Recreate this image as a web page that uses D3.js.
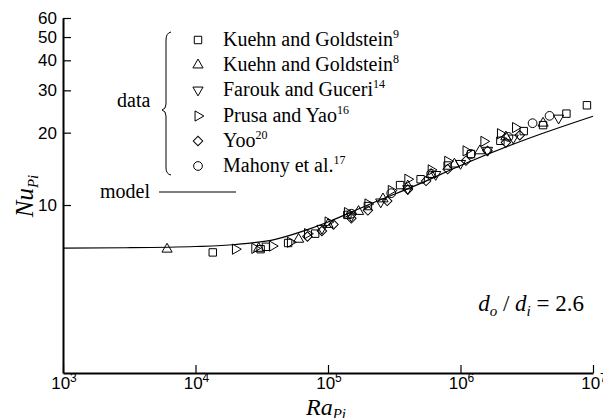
<!DOCTYPE html>
<html>
<head>
<meta charset="utf-8">
<script src="https://cdn.jsdelivr.net/npm/d3@7"></script>
<style>
body { margin: 0; background: #fff; }
</style>
</head>
<body>
<div id="chart"></div>
<script>
// data: [Ra, Nu]
const kuehn9 = [[1.35e4,6.35],[3.1e4,6.55],[3.4e4,6.7],[5e4,6.95],[8e4,7.6],[1.4e5,9.1],[2e5,9.9],[3.5e5,12.1],[5e5,12.8],[8e5,14.6],[1.2e6,16.3],[2e6,18.5],[3e6,20.3],[4.2e6,21.5],[6.3e6,24.0],[9e6,26.0]];
const kuehn8 = [[6.1e3,6.55],[3e4,6.6],[6e4,7.2],[1e5,8.3],[1.7e5,9.4],[2.6e5,10.6],[4e5,12.0],[6e5,13.4],[9e5,14.8],[1.4e6,16.8],[2.2e6,19.2],[4.2e6,21.9]];
const farouk = [[9e4,8.0],[1.5e5,9.0],[2.5e5,10.3],[4e5,11.7],[6.5e5,13.4],[1e6,14.9],[1.6e6,16.9],[2.5e6,19.0],[5.5e6,23.0]];
const prusa = [[2e4,6.55],[2.8e4,6.6],[3.8e4,6.75],[5.2e4,7.0],[7e4,7.6],[1e5,8.5],[1.4e5,9.3],[2e5,10.1],[3e5,11.5],[4e5,12.8],[6e5,14.0],[8e5,15.2],[1.1e6,16.8],[1.5e6,18.4],[2e6,19.8],[2.6e6,21.0]];
const yoo = [[7e4,7.4],[9e4,7.8],[1.1e5,8.3],[1.5e5,8.8],[2e5,9.5],[2.8e5,10.4],[4e5,11.6],[5.5e5,12.6],[8e5,14.1],[1.1e6,15.3],[1.6e6,16.8],[2.2e6,18.2],[2.8e6,19.5]];
const mahony = [[1.5e5,9.2],[3e5,11.2],[6e5,13.5],[1.2e6,16.3],[2.3e6,19.2],[3.5e6,21.9],[4.7e6,23.5]];

// model curve, read at a few points
const modelRa = [1e3, 3e3, 1e4, 2e4, 4e4, 7e4, 1e5, 2e5, 5e5, 1e6, 3e6, 1e7];
const modelNu = [6.62, 6.64, 6.72, 6.85, 7.2, 7.9, 8.5, 10.0, 12.3, 14.6, 18.6, 23.4];

// legend entries
const legendNames = ['Kuehn and Goldstein', 'Kuehn and Goldstein', 'Farouk and Guceri', 'Prusa and Yao', 'Yoo', 'Mahony et al.'];
const legendRefs = ['9', '8', '14', '16', '20', '17'];

const xMajor = [1e3, 1e4, 1e5, 1e6, 1e7];
const xExp = ['3', '4', '5', '6', '7'];
const yMajor = [10, 20, 30, 40, 50, 60];

const w = 603, h = 418;
const svg = d3.select('#chart').append('svg')
	.attr('width', w)
	.attr('height', h)
	.style('font-family', 'Liberation Serif, Times New Roman, serif');

const x = d3.scaleLog().domain([1e3, 1e7]).range([63, 593]);
const y = d3.scaleLog().domain([2, 60]).range([373, 18]);

//minor ticks
const xMinor = [];
[1e3, 1e4, 1e5, 1e6].forEach(d => { for (let k = 2; k <= 9; k++) xMinor.push(d * k); });
const yMinor = d3.range(4, 60, 2).filter(v => v % 10 !== 0);

const gx = svg.append('g').attr('transform', `translate(0,${y(2)})`);
gx.call(d3.axisBottom(x).tickValues(xMinor).tickSize(-4).tickSizeOuter(0).tickFormat(''));
gx.call(d3.axisBottom(x).tickValues(xMajor).tickSize(-8).tickSizeOuter(0).tickFormat(''));
gx.select('.domain').attr('stroke-width', 2);

const gy = svg.append('g').attr('transform', `translate(${x(1e3)},0)`);
gy.call(d3.axisLeft(y).tickValues(yMinor).tickSize(-4).tickSizeOuter(0).tickFormat(''));
gy.call(d3.axisLeft(y).tickValues(yMajor).tickSize(-8).tickSizeOuter(0).tickFormat(''));
gy.select('.domain').attr('stroke-width', 2);
svg.selectAll('.tick line').attr('stroke-width', 1.2);

// tick labels
const sans = 'Liberation Sans, Arial, Helvetica, sans-serif';
const xl = svg.append('g').style('font-family', sans);
xMajor.forEach((v, i) => {
	const t = xl.append('text').attr('x', x(v) + 1).attr('y', 389)
		.attr('text-anchor', 'middle').style('font-size', '17px');
	t.append('tspan').text('10');
	t.append('tspan').attr('dy', -7).style('font-size', '12px').text(xExp[i]);
});
svg.append('g').selectAll('text').data(yMajor).join('text')
	.attr('x', 57).attr('y', d => y(d) + 6)
	.attr('text-anchor', 'end')
	.style('font-family', sans).style('font-size', '17px')
	.text(d => d);

// axis titles
const xt = svg.append('text').attr('x', 326).attr('y', 415)
	.attr('text-anchor', 'middle').style('font-size', '24px').style('font-style', 'italic');
xt.append('tspan').text('Ra');
xt.append('tspan').attr('dy', 4).style('font-size', '15px').text('Pi');

const yt = svg.append('text').attr('transform', 'translate(33,196) rotate(-90)')
	.attr('text-anchor', 'middle').style('font-size', '25px').style('font-style', 'italic');
yt.append('tspan').text('Nu');
yt.append('tspan').attr('dy', 5).style('font-size', '15px').text('Pi');

// model line
const modelPts = modelRa.map((r, i) => [r, modelNu[i]]);
svg.append('path')
	.datum(modelPts)
	.attr('fill', 'none').attr('stroke', '#000').attr('stroke-width', 1.2)
	.attr('d', d3.line().x(d => x(d[0])).y(d => y(d[1])).curve(d3.curveMonotoneX));

// marker shapes
const shapes = [
	{ type: d3.symbolSquare, size: 55, rot: 0 },
	{ type: d3.symbolTriangle, size: 45, rot: 0 },
	{ type: d3.symbolTriangle, size: 45, rot: 180 },
	{ type: d3.symbolTriangle, size: 45, rot: 90 },
	{ type: d3.symbolSquare, size: 45, rot: 45 },
	{ type: d3.symbolCircle, size: 60, rot: 0 }
];
const allSeries = [kuehn9, kuehn8, farouk, prusa, yoo, mahony];

allSeries.forEach((s, i) => {
	const sym = d3.symbol().type(shapes[i].type).size(shapes[i].size);
	svg.append('g').selectAll('path').data(s).join('path')
		.attr('d', sym)
		.attr('transform', d => `translate(${x(d[0])},${y(d[1])}) rotate(${shapes[i].rot})`)
		.attr('fill', 'none').attr('stroke', '#000').attr('stroke-width', 1);
});

// legend
const lg = svg.append('g');
const rowY = [40, 65, 90, 116, 141, 166];
legendNames.forEach((n, i) => {
	const sym = d3.symbol().type(shapes[i].type).size(shapes[i].size);
	lg.append('path').attr('d', sym)
		.attr('transform', `translate(198,${rowY[i]}) rotate(${shapes[i].rot})`)
		.attr('fill', 'none').attr('stroke', '#000').attr('stroke-width', 1);
	const t = lg.append('text').attr('x', 223).attr('y', rowY[i] + 6).style('font-size', '20px');
	t.append('tspan').text(n);
	t.append('tspan').attr('dy', -8).style('font-size', '12px').text(legendRefs[i]);
});
lg.append('path')
	.attr('d', 'M171,32 Q166,33 166,40 L166,104 Q166,109 162,110 Q166,111 166,116 L166,168 Q166,174 171,175')
	.attr('fill', 'none').attr('stroke', '#000').attr('stroke-width', 1);
lg.append('text').attr('x', 117).attr('y', 107).style('font-size', '20px').text('data');
lg.append('text').attr('x', 100).attr('y', 198).style('font-size', '20px').text('model');
lg.append('line').attr('x1', 159).attr('x2', 236).attr('y1', 192).attr('y2', 192)
	.attr('stroke', '#000').attr('stroke-width', 1.2);

// ratio note
const note = svg.append('text').attr('x', 584).attr('y', 311)
	.attr('text-anchor', 'end').style('font-size', '23px');
note.append('tspan').style('font-style', 'italic').text('d');
note.append('tspan').attr('dy', 5).style('font-size', '15px').style('font-style', 'italic').text('o');
note.append('tspan').attr('dy', -5).text(' / ');
note.append('tspan').style('font-style', 'italic').text('d');
note.append('tspan').attr('dy', 5).style('font-size', '15px').style('font-style', 'italic').text('i');
note.append('tspan').attr('dy', -5).text(' = 2.6');
</script>
</body>
</html>
